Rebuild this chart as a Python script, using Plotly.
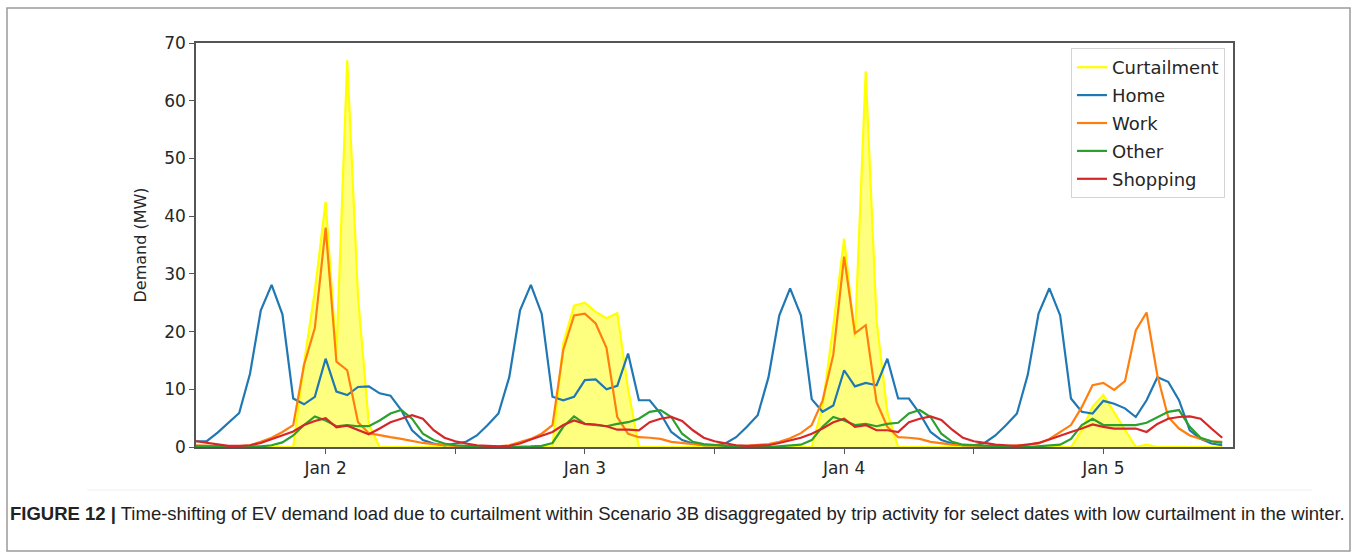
import pandas as pd
import plotly.graph_objects as go

# Hourly EV charging demand (MW), Jan 1 12:00 through Jan 5 11:00
start_time = "2019-01-01 12:00"
n_hours = 96

curtailment = [
    0, 0, 0, 0, 0, 0, 0, 0, 0, 0, 14.5, 27.0, 42.5, 16.0, 67.0, 26.0, 4.0, 0, 0, 0, 0, 0, 0, 0,
    0, 0, 0, 0, 0, 0, 0, 0, 0, 0, 18.0, 24.5, 25.0, 23.4, 22.3, 23.2, 10.0, 0, 0, 0, 0, 0, 0, 0,
    0, 0, 0, 0, 0, 0, 0, 0, 0, 0, 7.0, 21.0, 36.1, 19.0, 65.1, 22.0, 6.0, 0, 0, 0, 0, 0, 0, 0,
    0, 0, 0, 0, 0, 0, 0, 0, 0, 0, 2.9, 7.0, 9.0, 6.0, 3.0, 0, 0.4, 0, 0, 0, 0, 0, 0, 0,
]
home = [
    1.0, 1.0, 2.5, 4.2, 5.9, 12.7, 23.7, 28.1, 23.0, 8.4, 7.4, 8.7, 15.3, 9.6, 9.0, 10.4, 10.5, 9.3, 8.9, 6.4, 2.9, 1.2, 0.6, 0.3,
    0.6, 0.9, 2.0, 3.8, 5.8, 12.1, 23.7, 28.1, 23.1, 8.7, 8.1, 8.7, 11.6, 11.7, 10.0, 10.6, 16.2, 8.1, 8.1, 5.8, 2.6, 1.2, 0.6, 0.3,
    0.3, 0.6, 1.7, 3.5, 5.5, 12.1, 22.8, 27.5, 22.8, 8.3, 6.1, 7.2, 13.3, 10.5, 11.1, 10.7, 15.3, 8.4, 8.4, 5.8, 2.6, 1.2, 0.6, 0.3,
    0.3, 0.7, 2.0, 3.8, 5.8, 12.5, 23.1, 27.5, 22.8, 8.4, 6.1, 5.8, 8.0, 7.5, 6.7, 5.2, 8.1, 12.1, 11.3, 8.1, 2.9, 1.4, 0.6, 0.3,
]
work = [
    0.3, 0.2, 0.1, 0.1, 0.1, 0.3, 0.9, 1.6, 2.6, 3.8, 14.2, 20.6, 38.0, 14.8, 13.3, 4.3, 2.4, 2.0, 1.7, 1.4, 1.0, 0.7, 0.5, 0.3,
    0.2, 0.1, 0.1, 0.1, 0.1, 0.3, 0.9, 1.4, 2.3, 3.8, 16.8, 22.8, 23.1, 21.4, 17.2, 5.2, 2.3, 1.7, 1.6, 1.4, 0.9, 0.7, 0.5, 0.3,
    0.3, 0.2, 0.2, 0.2, 0.3, 0.5, 0.9, 1.5, 2.4, 3.8, 8.0, 16.0, 33.0, 19.7, 21.1, 7.8, 3.5, 1.7, 1.6, 1.4, 0.9, 0.6, 0.4, 0.3,
    0.2, 0.2, 0.1, 0.1, 0.3, 0.4, 0.6, 1.4, 2.6, 3.8, 6.9, 10.7, 11.1, 9.9, 11.4, 20.2, 23.3, 12.4, 5.2, 3.2, 2.0, 1.4, 1.0, 0.9,
]
other = [
    0.1, 0.1, 0.0, 0.0, 0.0, 0.0, 0.1, 0.3, 0.8, 2.0, 3.8, 5.3, 4.6, 3.6, 3.8, 3.6, 3.6, 4.6, 5.8, 6.4, 4.9, 2.3, 1.2, 0.6,
    0.3, 0.2, 0.1, 0.0, 0.0, 0.0, 0.0, 0.1, 0.2, 0.7, 3.5, 5.3, 4.0, 3.8, 3.6, 4.0, 4.3, 4.9, 6.1, 6.4, 5.2, 2.3, 0.9, 0.5,
    0.3, 0.2, 0.1, 0.0, 0.0, 0.0, 0.1, 0.2, 0.4, 1.2, 3.5, 5.2, 4.6, 3.8, 4.0, 3.6, 4.0, 4.2, 5.8, 6.4, 5.2, 2.3, 0.9, 0.4,
    0.3, 0.2, 0.1, 0.0, 0.0, 0.0, 0.1, 0.2, 0.4, 1.4, 3.8, 4.9, 3.8, 3.8, 3.8, 3.8, 4.2, 5.2, 6.1, 6.4, 3.5, 1.6, 1.0, 0.7,
]
shopping = [
    1.0, 0.7, 0.4, 0.2, 0.2, 0.3, 0.7, 1.4, 2.0, 2.7, 3.8, 4.5, 5.0, 3.4, 3.7, 2.9, 2.2, 3.2, 4.3, 4.9, 5.5, 4.9, 2.9, 1.6,
    1.0, 0.6, 0.3, 0.2, 0.1, 0.2, 0.6, 1.3, 1.9, 2.6, 3.8, 4.6, 4.0, 3.9, 3.6, 3.0, 3.0, 2.9, 4.3, 4.9, 5.2, 4.5, 2.9, 1.6,
    1.0, 0.6, 0.3, 0.2, 0.2, 0.3, 0.7, 1.2, 1.6, 2.3, 3.2, 4.3, 4.9, 3.5, 3.8, 2.9, 2.9, 2.6, 4.3, 4.9, 5.3, 4.7, 3.0, 1.6,
    1.0, 0.7, 0.4, 0.3, 0.2, 0.4, 0.7, 1.3, 2.0, 2.6, 3.2, 3.9, 3.5, 3.2, 3.2, 3.2, 2.6, 4.0, 4.9, 5.2, 5.3, 4.9, 3.2, 1.6,
]

day_ticks = ["2019-01-02", "2019-01-03", "2019-01-04", "2019-01-05"]
day_labels = ["Jan 2", "Jan 3", "Jan 4", "Jan 5"]
noon_ticks = ["2019-01-02 12:00", "2019-01-03 12:00", "2019-01-04 12:00"]
x_range = ["2019-01-01 12:00", "2019-01-05 12:00"]
y_ticks = [0, 10, 20, 30, 40, 50, 60, 70]

times = pd.date_range(start_time, periods=n_hours, freq="h")

series = [
    ("Home", home, "#1f77b4"),
    ("Work", work, "#ff7f0e"),
    ("Other", other, "#2ca02c"),
    ("Shopping", shopping, "#d62728"),
]

fig = go.Figure()

# shaded curtailment area
fig.add_trace(go.Scatter(
    x=times, y=curtailment, mode="lines", fill="tozeroy",
    fillcolor="rgba(255,255,0,0.5)", line=dict(width=0, color="rgba(255,255,0,0)"),
    showlegend=False, hoverinfo="skip",
))
fig.add_trace(go.Scatter(
    x=times, y=curtailment, mode="lines", name="Curtailment",
    line=dict(color="#ffff00", width=2.2), legendgroup="c",
))
for name, vals, color in series:
    fig.add_trace(go.Scatter(
        x=times, y=vals, mode="lines", name=name,
        line=dict(color=color, width=2.2), legendgroup=name,
    ))

W, H = 1357, 560
L, R, T, B = 196, 124, 43, 113
pw, ph = W - L - R, H - T - B


def px(x):
    return (x - L) / pw


def py(y):
    return (H - B - y) / ph


font_main = "DejaVu Sans, Verdana, sans-serif"
axis_color = "#555555"

fig.update_layout(
    width=W, height=H,
    margin=dict(l=L, r=R, t=T, b=B),
    paper_bgcolor="white", plot_bgcolor="white",
    font=dict(family=font_main, size=17, color="#262626"),
    showlegend=True,
    legend=dict(
        x=px(1225), y=py(48), xanchor="right", yanchor="top",
        bgcolor="white", bordercolor="#d4d4d4", borderwidth=1,
        font=dict(family=font_main, size=18, color="#262626"),
        tracegroupgap=1.5, traceorder="grouped",
    ),
    xaxis=dict(
        type="date", range=x_range,
        tickmode="array", tickvals=day_ticks, ticktext=day_labels,
        ticks="outside", ticklen=5, tickwidth=1.2, tickcolor=axis_color,
        showgrid=False, zeroline=False,
        showline=True, linecolor=axis_color, linewidth=1.5, mirror=True,
        minor=dict(tickmode="array", tickvals=noon_ticks, ticks="outside",
                   ticklen=5, tickwidth=1.2, tickcolor=axis_color, showgrid=False),
        tickfont=dict(size=17),
    ),
    yaxis=dict(
        range=[0, 70], tickmode="array", tickvals=y_ticks,
        ticks="outside", ticklen=5, tickwidth=1.2, tickcolor=axis_color,
        showgrid=False, zeroline=False,
        showline=True, linecolor=axis_color, linewidth=1.5, mirror=True,
        title=dict(text="Demand (MW)", font=dict(size=16), standoff=14),
        tickfont=dict(size=17),
    ),
    shapes=[
        # outer figure frame
        dict(type="rect", xref="paper", yref="paper",
             x0=px(7), x1=px(1350), y0=py(551), y1=py(8),
             line=dict(color="#9a9a9a", width=1.5), layer="below"),
        # faint rule under the chart
        dict(type="line", xref="paper", yref="paper",
             x0=px(87), x1=px(1312), y0=py(490), y1=py(490),
             line=dict(color="#f0f0f0", width=1), layer="below"),
    ],
    annotations=[
        dict(
            xref="paper", yref="paper", x=px(8), y=py(513),
            xanchor="left", yanchor="middle", showarrow=False,
            text="<b>FIGURE 12 |</b> Time-shifting of EV demand load due to curtailment within "
                 "Scenario 3B disaggregated by trip activity for select dates with low "
                 "curtailment in the winter.",
            font=dict(family="Liberation Sans, Arial, sans-serif",
                      size=18.5, color="#222222"),
        )
    ],
)

fig.write_html("out.html")
